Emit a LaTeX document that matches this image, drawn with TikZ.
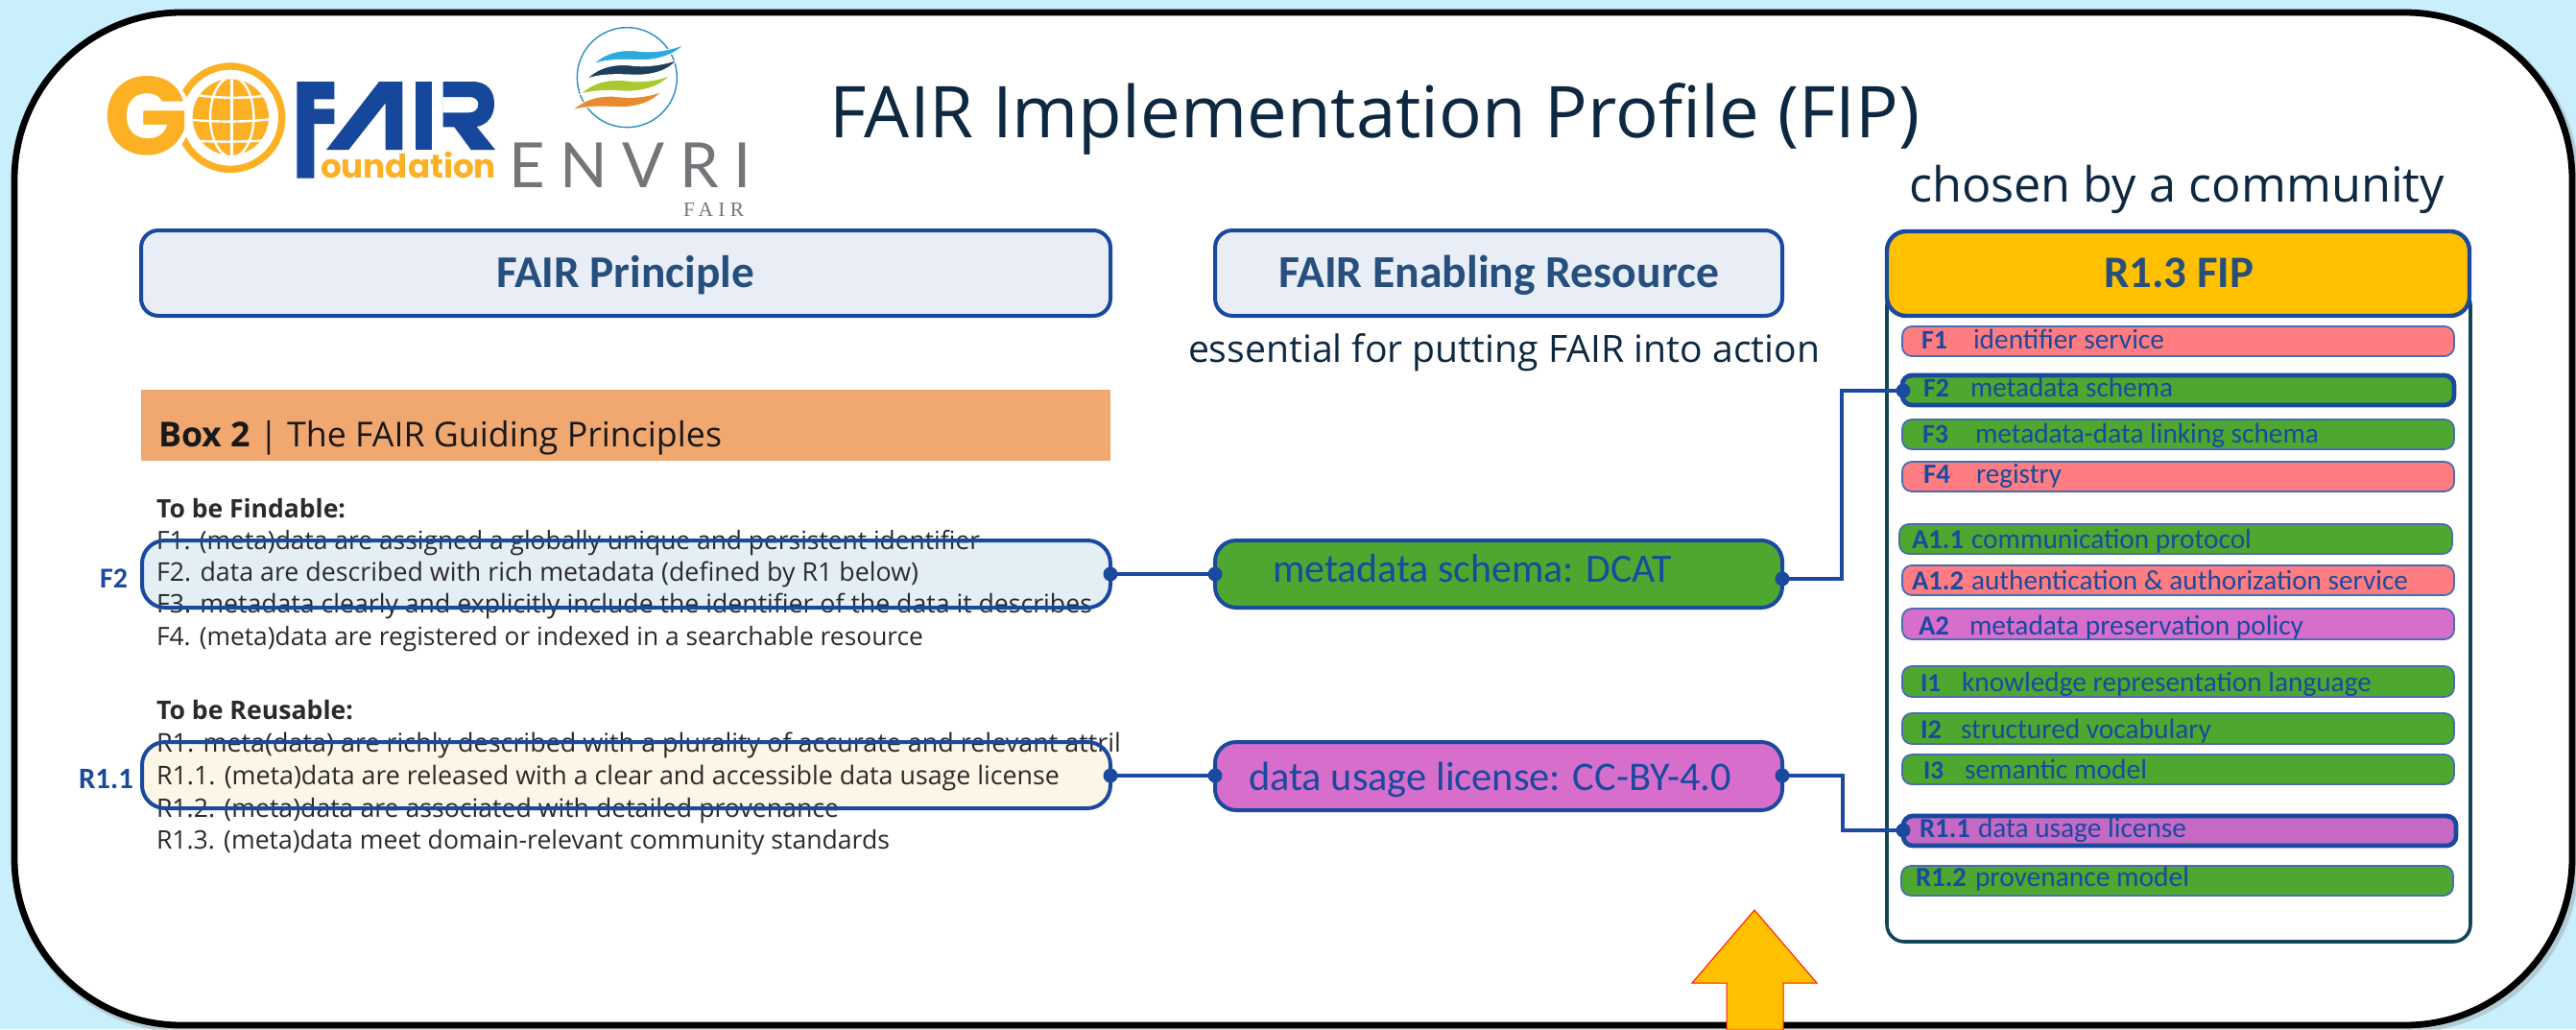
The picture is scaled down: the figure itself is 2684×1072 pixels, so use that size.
\documentclass[tikz,border=0pt]{standalone}
\usepackage{fontspec}
\usepackage{graphicx}
\setmainfont{Open Sans}
\newfontfamily\carl{Carlito}
\newfontfamily\popp{Poppins}
\newfontfamily\envrifont[LetterSpace=24]{Lato}
\newfontfamily\fairserif[LetterSpace=25]{Liberation Serif}
\definecolor{bgblue}{HTML}{C9EEFC}
\definecolor{navy}{HTML}{1A49A0}
\definecolor{headtext}{HTML}{264F7E}
\definecolor{titletext}{HTML}{0E2841}
\definecolor{bodytext}{HTML}{2A2A2A}
\definecolor{lightbox}{HTML}{E8EDF6}
\definecolor{fgreen}{HTML}{4EA72E}
\definecolor{fred}{HTML}{FF7C80}
\definecolor{fpurple}{HTML}{D86ECC}
\definecolor{fpurpledark}{HTML}{C46AC4}
\definecolor{fyellow}{HTML}{FFC000}
\definecolor{forange}{HTML}{F1A870}
\definecolor{fteal}{HTML}{124559}
\definecolor{gold}{HTML}{FCB024}
\definecolor{fairblue}{HTML}{17479A}
\definecolor{envgrey}{HTML}{747578}
\definecolor{ftwotint}{HTML}{E4EEF5}
\definecolor{ronetint}{HTML}{FDF5E5}
\definecolor{ringblue}{HTML}{2B8FC0}
\definecolor{swoosha}{HTML}{29ABDF}
\definecolor{swooshb}{HTML}{1E3F5C}
\definecolor{swooshc}{HTML}{A9C92F}
\definecolor{swooshd}{HTML}{E88A2E}
\tikzset{
  boxbase/.style={inner sep=0pt,outer sep=0pt,rectangle},
  headbox/.style={boxbase,draw=navy,line width=2pt,rounded corners=9pt,fill=lightbox},
  resbox/.style={boxbase,draw=navy,line width=2pt,rounded corners=11pt},
  barbase/.style={boxbase,draw=navy!80!white,line width=0.9pt,rounded corners=5pt},
  barred/.style={barbase,fill=fred},
  bargreen/.style={barbase,fill=fgreen},
  barpurple/.style={barbase,fill=fpurple},
  barpicked/.style={barbase,draw=navy,line width=2.4pt},
  dotnode/.style={circle,fill=navy,inner sep=0pt,outer sep=0pt,minimum size=7.5pt},
  wire/.style={draw=navy,line width=1.8pt},
  txt/.style={anchor=base west,inner sep=0pt,outer sep=0pt},
  bodyfont/.style={txt,text=bodytext,font=\fontsize{12}{14}\selectfont},
  boldfont/.style={txt,text=bodytext,font=\fontsize{12}{14}\selectfont\bfseries},
  headfont/.style={txt,text=headtext,font=\carl\bfseries\fontsize{20}{24}\selectfont},
  barlabel/.style={txt,text=navy,font=\carl\bfseries\fontsize{14}{16}\selectfont},
  bartext/.style={txt,text=navy,font=\carl\fontsize{14}{16}\selectfont},
  swooshedge/.style={draw=white,line width=0.5pt},
  gridline/.style={draw=white,line width=1.2pt},
}
\newcommand\fitw[2]{\resizebox{\dimexpr #1pt/2\relax}{!}{#2}}
\newcommand\rbox[6][]{\node[#1,minimum width={(#5-#3)*0.5pt},minimum height={(#6-#4)*0.5pt}] (#2) at ({(#3+#5)/2},{(#4+#6)/2}) {};}
\newcommand\tn[6]{\node[#2] (#1) at (#3,#4) {\fitw{#5}{#6}};}
\begin{document}
\begin{tikzpicture}[x=0.5pt,y=-0.5pt]
\useasboundingbox (0,0) rectangle (2684,1072);
\fill[bgblue] (0,0) rectangle (2684,1072);
% frame with soft shadow
\rbox[boxbase,draw=black!45,opacity=.35,line width=4.4pt,rounded corners=87pt]{frameshadow}{17}{16}{2683}{1071}
\rbox[boxbase,draw=black,fill=white,line width=3.4pt,rounded corners=87pt]{frame}{15}{13}{2680}{1068}

% GO logo
\begin{scope}[shift={(100,20)},x=0.16667pt,y=-0.16667pt]
  \fill[gold,even odd rule] (420,308) circle (172) (420,308) circle (150);
  \fill[white] (157,305) circle (140);
  \begin{scope}
    \clip (421,306) circle (119);
    \fill[gold] (421,306) circle (119);
    \draw[gridline] (425,180) -- (425,430);
    \draw[gridline] (425,306) ellipse (68 and 125);
    \draw[gridline] (295,314) .. controls (380,322) and (470,322) .. (550,312);
    \draw[gridline] (310,236) .. controls (380,248) and (470,248) .. (535,238);
    \draw[gridline] (310,380) .. controls (380,384) and (470,384) .. (535,378);
  \end{scope}
  \path[fill=fairblue] (628,195) -- (745,195) -- (745,250) -- (682,250) -- (682,280) -- (745,280) -- (745,327) -- (682,327) -- (682,497) -- (628,497) -- cycle;
  \path[fill=fairblue] (720,408) -- (790,408) -- (905,262) -- (905,408) -- (958,408) -- (958,195) -- (885,195) -- cycle;
  \path[fill=fairblue] (1000,195) rectangle (1050,408);
  \path[fill=fairblue,even odd rule] (1085,195) -- (1175,195) .. controls (1225,195) and (1245,225) .. (1245,265) .. controls (1245,300) and (1225,330) .. (1190,336) -- (1248,408) -- (1172,408) -- (1120,337) -- (1085,337) -- cycle (1085,243) -- (1085,292) -- (1165,292) .. controls (1185,292) and (1195,280) .. (1195,266) .. controls (1195,252) and (1185,243) .. (1165,243) -- cycle;
\end{scope}
\node[txt,text=gold,font=\popp\bfseries\fontsize{24}{26}\selectfont] (goletter) at (108,161) {\fitw{88}{G}};
\node[txt,text=gold,font=\popp\bfseries\fontsize{24}{26}\selectfont] (foundation) at (334,185) {\fitw{183}{oundation}};

% ENVRI logo
\begin{scope}[shift={(500,20)},x=0.16667pt,y=-0.16667pt]
  \draw[color=ringblue,line width=0.7pt] (460,182) circle (156);
  \path[fill=swoosha,swooshedge] (355,140) .. controls (390,105) and (440,92) .. (500,100) .. controls (550,105) and (600,95) .. (640,78) .. controls (610,110) and (560,130) .. (490,128) .. controls (430,125) and (390,128) .. (355,140) -- cycle;
  \path[fill=swooshb,swooshedge] (333,187) .. controls (370,150) and (420,137) .. (480,145) .. controls (530,150) and (580,140) .. (617,127) .. controls (590,160) and (540,178) .. (470,174) .. controls (420,172) and (375,172) .. (333,187) -- cycle;
  \path[fill=swooshc,swooshedge] (313,235) .. controls (350,198) and (400,185) .. (460,192) .. controls (510,198) and (560,190) .. (595,175) .. controls (570,205) and (520,228) .. (450,225) .. controls (400,222) and (355,222) .. (313,235) -- cycle;
  \path[fill=swooshd,swooshedge] (288,285) .. controls (325,250) and (375,235) .. (435,242) .. controls (485,248) and (535,240) .. (570,225) .. controls (545,255) and (495,278) .. (425,275) .. controls (375,272) and (330,272) .. (288,285) -- cycle;
\end{scope}
\node[txt,text=envgrey,font=\envrifont\fontsize{32.5}{34}\selectfont] (envri) at (530,195) {ENVRI};
\node[txt,text=envgrey,font=\fairserif\fontsize{10}{12}\selectfont] (envrifair) at (712,225) {\fitw{63}{FAIR}};

% titles
\tn{title}{txt,text=titletext,font=\fontsize{40}{44}\selectfont}{864}{143}{1136}{FAIR Implementation Profile (FIP)}
\tn{chosen}{txt,text=titletext,font=\fontsize{28}{32}\selectfont}{1989}{210}{558}{chosen by a community}

% header boxes
\rbox[headbox]{principle}{147}{240}{1157}{329}
\tn{principletext}{headfont}{517}{299}{269}{FAIR Principle}
\rbox[headbox]{enabling}{1266}{240}{1857}{329}
\tn{enablingtext}{headfont}{1332}{299}{459}{FAIR Enabling Resource}
\tn{essential}{txt,text=titletext,font=\fontsize{20}{24}\selectfont}{1238}{377}{658}{essential for putting FAIR into action}

% Box 2
\rbox[boxbase,fill=forange]{boxtwo}{147}{406}{1157}{480}
\tn{boxtwotext}{txt,text=black!90,font=\fontsize{16}{20}\selectfont}{165}{465}{587}{\textbf{Box 2} | The FAIR Guiding Principles}

% highlight fills under the text
\rbox[boxbase,fill=ftwotint,rounded corners=12pt]{ftwofill}{148}{563}{1157}{633}
\rbox[boxbase,fill=ronetint,rounded corners=12pt]{ronefill}{148}{773}{1157}{842}

% principle text
\tn{findable}{boldfont}{163}{539}{197}{To be Findable:}
\tn{fone}{bodyfont}{163}{572}{858}{F1. (meta)data are assigned a globally unique and persistent identifier}
\tn{ftwo}{bodyfont}{163}{605}{794}{F2. data are described with rich metadata (defined by R1 below)}
\tn{fthree}{bodyfont}{163}{638}{975}{F3. metadata clearly and explicitly include the identifier of the data it describes}
\tn{ffour}{bodyfont}{163}{672}{799}{F4. (meta)data are registered or indexed in a searchable resource}
\tn{reusable}{boldfont}{163}{749}{205}{To be Reusable:}
\tn{rone}{bodyfont}{163}{783}{1005}{R1. meta(data) are richly described with a plurality of accurate and relevant attril}
\tn{roneone}{bodyfont}{163}{817}{941}{R1.1. (meta)data are released with a clear and accessible data usage license}
\tn{ronetwo}{bodyfont}{163}{851}{711}{R1.2. (meta)data are associated with detailed provenance}
\tn{ronethree}{bodyfont}{163}{884}{764}{R1.3. (meta)data meet domain-relevant community standards}

% highlight outlines
\rbox[boxbase,draw=navy,line width=2pt,rounded corners=12pt]{ftwobox}{148}{563}{1157}{633}
\rbox[boxbase,draw=navy,line width=2pt,rounded corners=12pt]{ronebox}{148}{773}{1157}{842}
\tn{ftwolabel}{barlabel}{104}{612}{29}{F2}
\tn{ronelabel}{barlabel}{82}{821}{57}{R1.1}

% resource boxes
\rbox[resbox,fill=fgreen]{schema}{1266}{563}{1857}{633}
\tn{schematext}{bartext}{1326}{606}{416}{metadata schema: DCAT}
\rbox[resbox,fill=fpurple]{license}{1266}{773}{1857}{844}
\tn{licensetext}{bartext}{1301}{823}{503}{data usage license: CC-BY-4.0}

% FIP panel
\rbox[boxbase,draw=fteal,line width=1.8pt,fill=white,rounded corners=9pt]{panel}{1966}{300}{2574}{981}
\rbox[boxbase,draw=navy,line width=2.2pt,fill=fyellow,rounded corners=10pt]{fiphead}{1966}{241}{2573}{329}
\tn{fiptext}{headfont}{2192}{299}{156}{R1.3 FIP}

\foreach \nm/\xa/\ya/\xb/\yb/\st/\fl/\bs/\lx/\lw/\lab/\tx/\tw/\body in {
  Fone/1982/340/2557/371/barred/fred/363/2002/27/F1/2056/199/identifier service,
  Ftwo/1982/391/2557/422/barpicked/fgreen/413/2004/27/F2/2053/211/metadata schema,
  Fthree/1982/437/2557/468/bargreen/fgreen/461/2003/27/F3/2058/358/metadata-data linking schema,
  Ffour/1982/481/2557/512/barred/fred/503/2004/28/F4/2059/89/registry,
  Aone/1979/546/2555/577/bargreen/fgreen/571/1992/54/A1.1/2054/292/communication protocol,
  Aonetwo/1982/589/2557/620/barred/fred/614/1992/54/A1.2/2054/455/authentication \& authorization service,
  Atwo/1982/634/2557/666/barpurple/fpurple/661/1999/32/A2/2052/348/metadata preservation policy,
  Ione/1982/694/2557/726/bargreen/fgreen/720/2001/21/I1/2044/427/knowledge representation language,
  Itwo/1982/743/2557/775/bargreen/fgreen/769/2001/22/I2/2043/261/structured vocabulary,
  Ithree/1982/786/2557/817/bargreen/fgreen/811/2004/21/I3/2047/190/semantic model,
  Ronei/1983/850/2559/881/barpicked/fpurpledark/872/2000/53/R1.1/2061/217/data usage license,
  Ronet/1981/902/2556/933/bargreen/fgreen/923/1996/53/R1.2/2058/223/provenance model%
}{
  \rbox[\st,fill=\fl]{\nm}{\xa}{\ya}{\xb}{\yb}
  \tn{\nm lab}{barlabel}{\lx}{\bs}{\lw}{\lab}
  \tn{\nm txt}{bartext}{\tx}{\bs}{\tw}{\body}
}

% connectors
\node[dotnode] (da) at (1157,598) {};
\node[dotnode] (db) at (1266,598) {};
\node[dotnode] (dc) at (1857,603) {};
\node[dotnode] (dd) at (1983,407) {};
\node[dotnode] (de) at (1157,808) {};
\node[dotnode] (df) at (1266,808) {};
\node[dotnode] (dg) at (1857,808) {};
\node[dotnode] (dh) at (1983,865) {};
\coordinate (viaone) at (1919,600);
\coordinate (viatwo) at (1920,840);
\draw[wire] (da.center) -- (db.center);
\draw[wire] (de.center) -- (df.center);
\draw[wire,line join=miter] (dc.center) -- (dc.center -| viaone) -- (viaone |- dd.center) -- (dd.center);
\draw[wire,line join=miter] (dg.center) -- (dg.center -| viatwo) -- (viatwo |- dh.center) -- (dh.center);

% big arrow
\draw[fill=fyellow,draw=red!85!orange,line width=0.5pt,line join=miter] (1828,948) -- (1893,1024) -- (1858,1024) -- (1858,1073) -- (1799,1073) -- (1799,1024) -- (1763,1024) -- cycle;
\end{tikzpicture}
\end{document}
